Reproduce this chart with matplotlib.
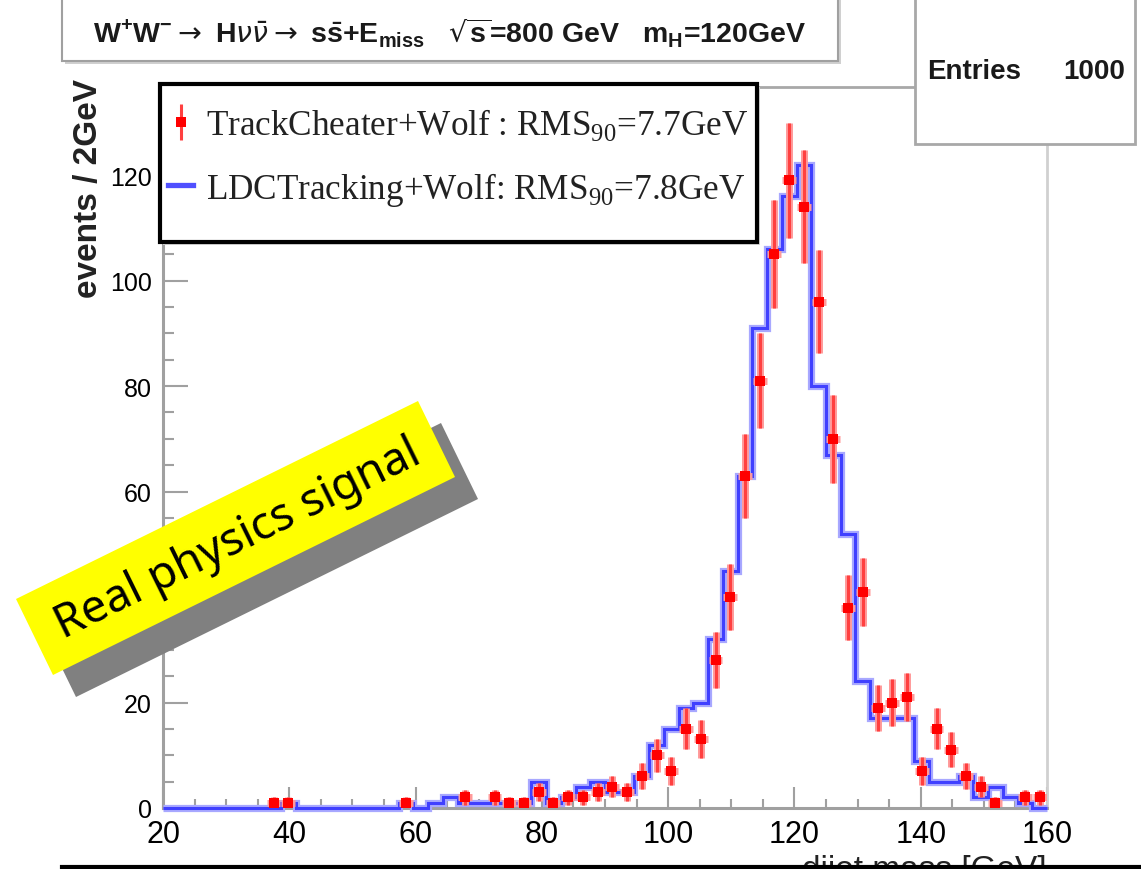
import numpy as np
import matplotlib
matplotlib.use('Agg')
import matplotlib.pyplot as plt
from matplotlib.patches import Polygon, Rectangle
from matplotlib.lines import Line2D
from matplotlib.ticker import MultipleLocator

W, H = 1141, 870

# histogram binning (60 bins over 20-160 GeV)
x_lo, x_hi, n_bins = 20, 160, 60

# LDCTracking+Wolf (blue histogram), events per bin
ldc = [0, 0, 0, 0, 0, 0, 0, 0, 1, 0,
       0, 0, 0, 0, 0, 0, 1, 0, 1, 2,
       1, 1, 1, 1, 1, 5, 1, 2, 4, 5,
       3, 3, 6, 12, 15, 19, 20, 32, 45, 63,
       91, 106, 116, 122, 80, 67, 52, 24, 17, 17,
       17, 9, 5, 5, 6, 2, 4, 2, 1, 0]

# TrackCheater+Wolf (red points), events per bin
cheater = [0, 0, 0, 0, 0, 0, 0, 1, 1, 0,
           0, 0, 0, 0, 0, 0, 1, 0, 0, 0,
           2, 0, 2, 1, 1, 3, 1, 2, 2, 3,
           4, 3, 6, 10, 7, 15, 13, 28, 40, 63,
           81, 105, 119, 114, 96, 70, 38, 41, 19, 20,
           21, 7, 15, 11, 6, 4, 1, 0, 2, 2]

labels = ['TrackCheater+Wolf : RMS$_\\mathdefault{90}$=7.7GeV',
          'LDCTracking+Wolf: RMS$_\\mathdefault{90}$=7.8GeV']
title = ('W$^\\mathdefault{+}$W$^\\mathdefault{-}$$\\rightarrow$ H$\\nu\\bar{\\nu}$$\\rightarrow$ '
         's$\\bar{\\mathdefault{s}}$+E$_\\mathdefault{miss}$   $\\sqrt{\\mathdefault{s}}$=800 GeV   '
         'm$_\\mathdefault{H}$=120GeV')

edges = np.linspace(x_lo, x_hi, n_bins + 1)
centers = 0.5 * (edges[1:] + edges[:-1])
cheat = np.array(cheater, dtype=float)
has = cheat > 0

plt.rcParams['font.family'] = ['Liberation Sans', 'DejaVu Sans']

fig = plt.figure(figsize=(W / 100, H / 100), dpi=100)
ax = fig.add_axes([163 / W, 1 - 809 / H, (1047 - 163) / W, (809 - 88) / H])
ax.set_xlim(x_lo, x_hi)
ax.set_ylim(0, 136.7)

# blue histogram: light halo + darker core
ax.stairs(ldc, edges, color='#a8a8ff', lw=5.2, zorder=3, clip_on=False)
ax.stairs(ldc, edges, color='#4040ff', lw=2.2, zorder=4, clip_on=False)

# red points with poisson errors
err = np.sqrt(cheat[has])
ax.errorbar(centers[has], cheat[has], yerr=err, xerr=1.1, fmt='none',
            ecolor='#ff9a9a', elinewidth=5, zorder=5)
red = ax.errorbar(centers[has], cheat[has], yerr=err, fmt='s', color='#ff0000',
                  ms=7.5, mew=0, ecolor='#ff4040', elinewidth=2.2, capsize=0, zorder=6)

for s in ['left', 'bottom']:
    ax.spines[s].set_color('#a0a0a0')
    ax.spines[s].set_linewidth(2.2)
ax.spines['right'].set_color('#d0d0d0')
ax.spines['right'].set_linewidth(2)
ax.spines['top'].set_color('#a8a8a8')
ax.spines['top'].set_linewidth(2)

ax.xaxis.set_major_locator(MultipleLocator(20))
ax.xaxis.set_minor_locator(MultipleLocator(5))
ax.yaxis.set_major_locator(MultipleLocator(20))
ax.yaxis.set_minor_locator(MultipleLocator(5))
ax.tick_params(axis='x', which='major', direction='in', length=15, width=1.5,
               color='#a0a0a0', labelsize=22, pad=8)
ax.tick_params(axis='x', which='minor', direction='in', length=6.5, width=1.5, color='#a0a0a0')
ax.tick_params(axis='y', which='major', direction='in', length=18, width=1.5,
               color='#a0a0a0', labelsize=18, pad=8)
ax.tick_params(axis='y', which='minor', direction='in', length=8, width=1.5, color='#a0a0a0')

ax.set_ylabel('events / 2GeV', fontsize=24, fontweight='bold', rotation=90, color='#222222')
ax.yaxis.set_label_coords(-0.067, 0.86)
ax.set_xlabel('dijet mass [GeV]', fontsize=24, ha='right', va='top', color='#222222')
ax.xaxis.set_label_coords(1.0, -0.064)

handles = [red, Line2D([], [], color='#5050ff', lw=3.8)]
leg = ax.legend(handles, labels, loc='center left', bbox_to_anchor=(168 / W, 1 - 158 / H),
                bbox_transform=fig.transFigure, prop={'family': 'Liberation Serif', 'size': 25.3},
                frameon=False, borderpad=0, labelspacing=0.78, handlelength=0.72,
                handletextpad=0.36, borderaxespad=0)
leg.set_zorder(8)
for t in leg.get_texts():
    t.set_color('#222222')

# legend frame with shadow, behind the legend entries
ax.add_patch(Rectangle((163 / W, 1 - 246 / H), 597 / W, 158 / H, fc='#d8d8d8', ec='none',
                       transform=fig.transFigure, zorder=6.8, clip_on=False))
ax.add_patch(Rectangle((160 / W, 1 - 243 / H), 597 / W, 158 / H, fc='white', ec='black', lw=3,
                       transform=fig.transFigure, zorder=7, clip_on=False))

# overlay for the pave boxes and the sticker
ov = fig.add_axes([0, 0, 1, 1], zorder=10)
ov.set_xlim(0, W)
ov.set_ylim(H, 0)
ov.axis('off')

ov.add_patch(Rectangle((65, -10), 776, 75, fc='#d0d0d0', ec='none'))
ov.add_patch(Rectangle((62, -10), 776, 72, fc='white', ec='#a0a0a0', lw=1.5))
ov.text(450, 33, title, fontsize=20.5, fontweight='bold', ha='center', va='center', color='#1a1a1a')

ov.add_patch(Rectangle((915, -10), 220, 155, fc='white', ec='#a8a8a8', lw=2))
ov.text(927, 72, 'Entries', fontsize=20, fontweight='bold', ha='left', va='center', color='#1a1a1a')
ov.text(1125, 72, '1000', fontsize=20, fontweight='bold', ha='right', va='center', color='#1a1a1a')

sticker = np.array([[16, 600], [418, 402], [455, 478], [53, 676]])
ov.add_patch(Polygon(sticker + [23, 22], closed=True, fc='#808080', ec='none'))
ov.add_patch(Polygon(sticker, closed=True, fc='#ffff00', ec='none'))
ov.text(238, 540, 'Real physics signal', fontsize=33, rotation=26.2, ha='center', va='center',
        family='Noto Sans', color='black', rotation_mode='anchor')

fig.add_artist(Line2D([62 / W, 1], [1 - 868 / H, 1 - 868 / H], color='black', lw=3,
                      transform=fig.transFigure))

fig.savefig('out.png', dpi=100)
